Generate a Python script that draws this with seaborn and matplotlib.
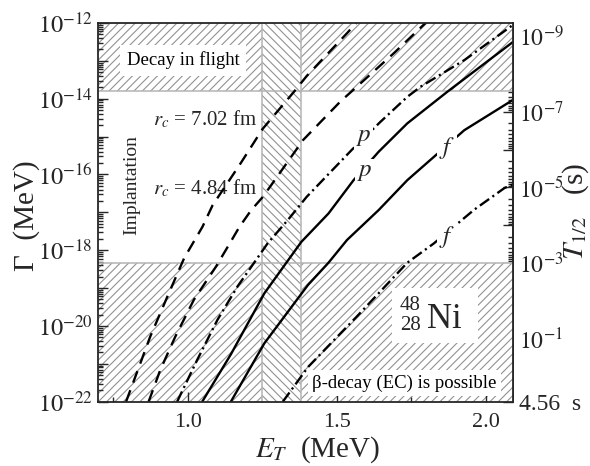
import numpy as np
import pandas as pd
import matplotlib
matplotlib.use("Agg")
import matplotlib.pyplot as plt
import matplotlib.ticker as mticker
from matplotlib.patches import Rectangle
import seaborn as sns

# ---- decay widths: resonance energy E_T (MeV) vs log10 of width (MeV) ----
dashed_a_E = [0.794, 0.875, 0.937, 0.9885, 1.050, 1.084, 1.174, 1.213, 1.251, 1.356, 1.399, 1.534, 1.565]
dashed_a_logG = [-22.0, -20.28, -19.14, -18.21, -17.38, -16.81, -15.75, -15.27, -14.80, -13.82, -13.40, -12.27, -12.0]

dashed_b_E = [0.8695, 0.9087, 0.959, 1.021, 1.0954, 1.1345, 1.174, 1.2133, 1.2524, 1.387, 1.511, 1.6906, 1.797]
dashed_b_logG = [-22.0, -21.16, -20.28, -19.31, -18.43, -17.91, -17.38, -16.94, -16.59, -15.09, -14.08, -12.80, -12.0]

dashdot_p_E = [0.965, 1.032, 1.100, 1.167, 1.223, 1.268, 1.336, 1.399, 1.550, 1.646, 1.736, 1.781, 1.927, 2.09]
dashdot_p_logG = [-22.0, -20.90, -19.84, -18.96, -18.33, -17.82, -17.20, -16.59, -15.35, -14.61, -13.95, -13.68, -12.98, -12.05]

solid_p_E = [1.049, 1.145, 1.257, 1.381, 1.472, 1.556, 1.640, 1.736, 1.871, 2.09]
solid_p_logG = [-22.0, -20.75, -19.14, -17.78, -17.03, -16.15, -15.40, -14.65, -13.81, -12.50]

solid_f_E = [1.145, 1.257, 1.403, 1.472, 1.534, 1.640, 1.736, 1.927, 2.09]
solid_f_logG = [-22.0, -20.46, -18.92, -18.33, -17.73, -16.94, -16.15, -14.83, -14.03]

dashdot_f_E = [1.319, 1.404, 1.567, 1.736, 1.825, 1.960, 2.061, 2.09]
dashdot_f_logG = [-22.0, -21.08, -19.75, -18.33, -17.82, -16.93, -16.36, -16.26]

# ---- regions ----
flight_limit = 1.6e-14        # above: decay in flight
ec_limit = 4.56e-19           # below: beta decay (EC) competes
gap_E = [1.25, 1.38]          # shaded energy window
hbar_ln2 = 4.56e-22           # MeV s, converts width to half-life

x_ticks = [1.0, 1.5, 2.0]
x_minor = [0.75, 1.25, 1.75]
left_exps = list(range(-22, -11))
right_exps = list(range(-9, 1))
right_labels = {-9: r"$10^{-9}$", -7: r"$10^{-7}$", -5: r"$10^{-5}$", -3: r"$10^{-3}$", -1: r"$10^{-1}$"}

curves = {
    "dashed_a": (dashed_a_E, dashed_a_logG),
    "dashed_b": (dashed_b_E, dashed_b_logG),
    "dashdot_p": (dashdot_p_E, dashdot_p_logG),
    "solid_p": (solid_p_E, solid_p_logG),
    "solid_f": (solid_f_E, solid_f_logG),
    "dashdot_f": (dashdot_f_E, dashdot_f_logG),
}
rows = []
for name, (es, gs) in curves.items():
    for e, g in zip(es, gs):
        rows.append({"curve": name, "E": e, "Gamma": 10.0 ** g})
df = pd.DataFrame(rows)

sns.set_style("ticks")
plt.rcParams["font.family"] = ["Liberation Serif", "DejaVu Serif"]
plt.rcParams["mathtext.fontset"] = "stix"
plt.rcParams["hatch.linewidth"] = 0.8

HATCH = "#929292"
EDGE = "#b4b4b4"

fig = plt.figure(figsize=(5.9, 4.66), dpi=100)
ax = fig.add_axes([98 / 590, 1 - 401.7 / 466, 415 / 590, 378.7 / 466])

ax.set_yscale("log")
ax.set_xlim(0.70, 2.09)
ax.set_ylim(1e-22, 1e-12)

# shaded regions
ax.axhspan(flight_limit, 1e-12, facecolor="white", edgecolor=HATCH, linewidth=0, hatch="////", zorder=0.5)
ax.axhspan(1e-22, ec_limit, facecolor="white", edgecolor=HATCH, linewidth=0, hatch="////", zorder=0.5)
ax.axvspan(gap_E[0], gap_E[1], facecolor="white", edgecolor=HATCH, linewidth=0, hatch="\\\\\\\\", zorder=0.7)
for yv in (flight_limit, ec_limit):
    ax.axhline(yv, color=EDGE, lw=1.1, zorder=0.8)
for xv in gap_E:
    ax.axvline(xv, color=EDGE, lw=1.1, zorder=0.8)

dash_styles = {
    "dashed_a": (5.2, 3.4),
    "dashed_b": (5.2, 3.4),
    "dashdot_p": (4.8, 1.7, 0.9, 1.7),
    "solid_p": "",
    "solid_f": "",
    "dashdot_f": (4.8, 1.7, 0.9, 1.7),
}
sns.lineplot(data=df, x="E", y="Gamma", style="curve", dashes=dash_styles,
             color="black", lw=1.7, estimator=None, sort=False, legend=False,
             ax=ax, zorder=3)

# text annotations
txt_kw = dict(fontsize=13.5, color="black")
ax.text(0.985, 10 ** -12.98, "Decay in flight", ha="center", va="center", zorder=2,
        bbox=dict(boxstyle="square,pad=0.35", fc="white", ec="none"), **txt_kw)
ax.text(1.7266, 10 ** -21.51, "β-decay (EC) is possible", ha="center", va="center", zorder=2,
        bbox=dict(boxstyle="square,pad=0.25", fc="white", ec="none"), **txt_kw)
ax.text(0.8136, 10 ** -16.28, "Implantation", rotation=90, ha="center", va="center",
        fontsize=14, zorder=2)
ax.text(1.2346, 10 ** -14.56, r"$r_c$ = 7.02 fm", ha="right", va="center", fontsize=15, zorder=2)
ax.text(1.2346, 10 ** -16.365, r"$r_c$ = 4.84 fm", ha="right", va="center", fontsize=15, zorder=2)

lbl_box = dict(boxstyle="square,pad=0.08", fc="white", ec="none")
for (xe, lg, s) in [(1.5895, -15.0, "p"), (1.595, -15.93, "p"), (1.868, -15.30, "f"), (1.871, -17.64, "f")]:
    ax.text(xe, 10 ** lg, rf"${s}$", ha="center", va="center", fontsize=18, zorder=4, bbox=lbl_box)

# nucleus tag
ax.add_patch(Rectangle((0.708, 0.155), 0.208, 0.145, transform=ax.transAxes,
                       facecolor="white", edgecolor="none", zorder=2))
ax.text(0.8336, 0.1946, "Ni", transform=ax.transAxes, ha="center", va="baseline",
        fontsize=25, zorder=2.5)
ax.text(0.752, 0.255, "48", transform=ax.transAxes, ha="center", va="center", fontsize=15, zorder=2.5)
ax.text(0.752, 0.2025, "28", transform=ax.transAxes, ha="center", va="center", fontsize=15, zorder=2.5)

# axes styling
for sp in ax.spines.values():
    sp.set_linewidth(1.3)
    sp.set_zorder(5)

ax.xaxis.set_major_locator(mticker.FixedLocator(x_ticks))
ax.xaxis.set_minor_locator(mticker.FixedLocator(x_minor))
ax.xaxis.set_major_formatter(mticker.FormatStrFormatter("%.1f"))
ax.yaxis.set_major_locator(mticker.FixedLocator([10.0 ** e for e in left_exps]))
ax.yaxis.set_major_formatter(mticker.FuncFormatter(
    lambda v, _: (rf"$10^{{{int(round(np.log10(v)))}}}$" if int(round(np.log10(v))) % 2 == 0 else "")))
ax.yaxis.set_minor_locator(mticker.LogLocator(base=10, subs=np.arange(2, 10), numticks=100))
ax.yaxis.set_minor_formatter(mticker.NullFormatter())

ax.tick_params(axis="both", which="both", direction="in", top=False, right=False, width=1.0)
ax.tick_params(axis="both", which="major", length=7)
ax.tick_params(axis="both", which="minor", length=3.5)
ax.tick_params(axis="x", which="major", labelsize=16, pad=8)
ax.tick_params(axis="y", which="major", labelsize=17.5, pad=4)

ax.set_xlabel(r"$E_T$  (MeV)", fontsize=21)
ax.xaxis.set_label_coords(0.53, -0.085)
ax.xaxis.label.set_verticalalignment("top")
ax.set_ylabel("Γ  (MeV)", fontsize=21)
ax.yaxis.set_label_coords(-0.14, 0.49)

# half-life axis on the right
def width_to_halflife(g):
    return hbar_ln2 / np.asarray(g, dtype=float)

ax2 = ax.secondary_yaxis("right", functions=(width_to_halflife, width_to_halflife))
major_T = [10.0 ** e for e in right_exps] + [4.56]
major_lbl = [right_labels.get(e, "") for e in right_exps] + ["4.56  s"]
ax2.set_yticks(major_T, labels=major_lbl)
minor_T = [m * 10.0 ** k for k in range(-10, 1) for m in range(2, 10)
           if 4.56e-10 <= m * 10.0 ** k <= 4.56]
ax2.yaxis.set_minor_locator(mticker.FixedLocator(minor_T))
ax2.yaxis.set_minor_formatter(mticker.NullFormatter())
ax2.tick_params(axis="y", which="both", direction="in", width=1.0)
ax2.tick_params(axis="y", which="major", length=7, labelsize=17, pad=4)
ax2.tick_params(axis="y", which="minor", length=3.5)
ax2.spines["right"].set_linewidth(1.3)
fig.text(576 / 590, 1 - 212 / 466, r"$T_{1/2}$   (s)", rotation=90,
         ha="center", va="center", fontsize=21)

fig.savefig("out.png", dpi=100)
